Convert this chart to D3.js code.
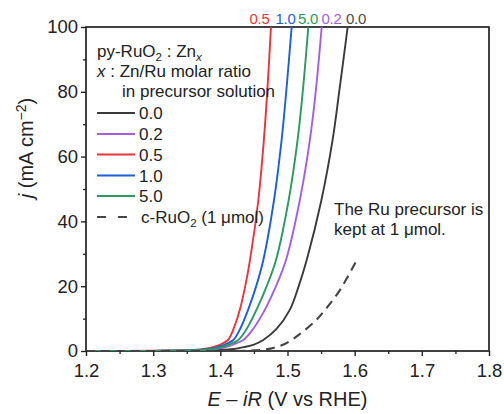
<!DOCTYPE html>
<html>
<head>
<meta charset="utf-8">
<script src="https://cdn.jsdelivr.net/npm/d3@7/dist/d3.min.js"></script>
<style>
  html, body { margin: 0; padding: 0; background: #fff; }
  svg { display: block; font-family: "Liberation Sans", Arial, sans-serif; }
</style>
</head>
<body>
<svg id="chart" width="504" height="414"></svg>
<script>
// Polarisation curves (potential V vs RHE, current density mA cm^-2)
const seriesNames = ["0.0", "0.2", "0.5", "1.0", "5.0"];
const seriesColors = ["#3a3a3a", "#a45ee3", "#e8343a", "#1c5fd8", "#2a9a5e"];

const zn00 = [[1.20,0],[1.30,0.05],[1.40,0.3],[1.42,0.6],[1.435,1.2],[1.45,2.0],[1.4640,3.4],[1.4836,6.8],[1.5034,12.7],[1.5168,20.1],[1.5286,28.1],[1.5502,46.3],[1.5671,65.1],[1.5771,80.2],[1.5896,100]];
const zn02 = [[1.20,0],[1.30,0.05],[1.379,0.3],[1.399,0.8],[1.409,1.3],[1.419,2.0],[1.4342,3.4],[1.4488,6.8],[1.4662,12.7],[1.4830,20.1],[1.4978,28.1],[1.5181,46.3],[1.5333,65.1],[1.5421,80.2],[1.5509,100]];
const zn05 = [[1.20,0],[1.30,0.1],[1.36,0.3],[1.38,0.8],[1.39,1.3],[1.40,2.0],[1.4114,3.4],[1.4196,6.8],[1.4290,12.7],[1.4372,20.1],[1.4442,28.1],[1.4564,46.3],[1.4648,65.1],[1.4699,80.2],[1.4754,100]];
const zn10 = [[1.20,0],[1.30,0.05],[1.367,0.3],[1.387,0.8],[1.397,1.3],[1.407,2.0],[1.4193,3.4],[1.4294,6.8],[1.4413,12.7],[1.4535,20.1],[1.4640,28.1],[1.4797,46.3],[1.4912,65.1],[1.4982,80.2],[1.5062,100]];
const zn50 = [[1.20,0],[1.30,0.05],[1.373,0.3],[1.393,0.8],[1.403,1.3],[1.413,2.0],[1.4267,3.4],[1.4392,6.8],[1.4538,12.7],[1.4692,20.1],[1.4829,28.1],[1.5015,46.3],[1.5150,65.1],[1.5228,80.2],[1.5310,100]];
const cRuO2 = [[1.20,0],[1.40,0],[1.44,0.05],[1.464,0.4],[1.48,1.0],[1.50,2.6],[1.52,5.5],[1.543,9.6],[1.556,12.7],[1.578,18.8],[1.603,28]];

const seriesData = [zn00, zn02, zn05, zn10, zn50];
const xTicks = [1.2, 1.3, 1.4, 1.5, 1.6, 1.7, 1.8];
const yTicks = [0, 20, 40, 60, 80, 100];
// labels above the top edge, in left-to-right order
const topLabels = ["0.5", "1.0", "5.0", "0.2", "0.0"];
const topLabelColors = ["#e8343a", "#1c5fd8", "#2a9a5e", "#a45ee3", "#4a4a4a"];

const svg = d3.select("#chart");
const m = { left: 86, right: 489, top: 27, bottom: 351 };
const x = d3.scaleLinear().domain([1.2, 1.8]).range([m.left, m.right]);
const y = d3.scaleLinear().domain([0, 100]).range([m.bottom, m.top]);
const axisColor = "#222";
const textColor = "#222";
const tickFont = "18.5px";
const titleFont = "20px";
const fs = "17px";

svg.append("defs").append("clipPath").attr("id", "plot-clip")
  .append("rect").attr("x", m.left).attr("y", m.top)
  .attr("width", m.right - m.left).attr("height", m.bottom - m.top);

// minor ticks
const xMinor = d3.range(1.25, 1.8, 0.1);
const yMinor = d3.range(10, 100, 20);
svg.append("g").attr("transform", `translate(0,${m.bottom})`)
  .call(d3.axisBottom(x).tickValues(xMinor).tickSize(3).tickFormat(""))
  .call(g => g.select(".domain").remove())
  .call(g => g.selectAll("line").attr("stroke", axisColor).attr("stroke-width", 1.3));
svg.append("g").attr("transform", `translate(${m.left},0)`)
  .call(d3.axisLeft(y).tickValues(yMinor).tickSize(3).tickFormat(""))
  .call(g => g.select(".domain").remove())
  .call(g => g.selectAll("line").attr("stroke", axisColor).attr("stroke-width", 1.3));

// major ticks and labels
const xAxis = svg.append("g").attr("transform", `translate(0,${m.bottom})`)
  .call(d3.axisBottom(x).tickValues(xTicks).tickSize(5).tickPadding(8).tickFormat(d3.format(".1f")));
xAxis.select(".domain").remove();
xAxis.selectAll("line").attr("stroke", axisColor).attr("stroke-width", 1.4);
xAxis.selectAll("text").attr("fill", textColor).style("font-size", tickFont)
  .style("font-family", "'Liberation Sans', Arial, sans-serif");

const yAxis = svg.append("g").attr("transform", `translate(${m.left},0)`)
  .call(d3.axisLeft(y).tickValues(yTicks).tickSize(5).tickPadding(3));
yAxis.select(".domain").remove();
yAxis.selectAll("line").attr("stroke", axisColor).attr("stroke-width", 1.4);
yAxis.selectAll("text").attr("fill", textColor).style("font-size", tickFont)
  .style("font-family", "'Liberation Sans', Arial, sans-serif");

// frame
svg.append("rect").attr("x", m.left).attr("y", m.top)
  .attr("width", m.right - m.left).attr("height", m.bottom - m.top)
  .attr("fill", "none").attr("stroke", axisColor).attr("stroke-width", 1.7);

// curves
const line = d3.line().x(d => x(d[0])).y(d => y(d[1])).curve(d3.curveCatmullRom.alpha(0.5));
const plot = svg.append("g").attr("clip-path", "url(#plot-clip)");
seriesData.forEach((data, i) => {
  plot.append("path").datum(data).attr("d", line)
    .attr("fill", "none").attr("stroke", seriesColors[i]).attr("stroke-width", 1.9);
});
plot.append("path").datum(cRuO2).attr("d", line)
  .attr("fill", "none").attr("stroke", "#444").attr("stroke-width", 2.1)
  .attr("stroke-dasharray", "9,6");

// labels above the curves' exits at the top edge
const topX = [259.5, 285.5, 308, 331.5, 356];
topLabels.forEach((t, i) => {
  svg.append("text").attr("x", topX[i]).attr("y", 23.5)
    .attr("text-anchor", "middle").attr("fill", topLabelColors[i])
    .style("font-size", "15px").style("letter-spacing", "-0.3px").text(t);
});

// legend header
const h1 = svg.append("text").attr("x", 97).attr("y", 57).attr("fill", textColor).style("font-size", fs);
h1.append("tspan").text("py-RuO");
h1.append("tspan").attr("dy", 4).style("font-size", "11.5px").text("2");
h1.append("tspan").attr("dy", -4).text(" : Zn");
h1.append("tspan").attr("dy", 4).style("font-size", "11.5px").style("font-style", "italic").text("x");

const h2 = svg.append("text").attr("x", 97).attr("y", 77).attr("fill", textColor).style("font-size", fs);
h2.append("tspan").style("font-style", "italic").text("x");
h2.append("tspan").text(" : Zn/Ru molar ratio");
svg.append("text").attr("x", 122).attr("y", 97).attr("fill", textColor).style("font-size", fs)
  .text("in precursor solution");

const legendY = [113, 134, 154.5, 175.5, 196];
seriesNames.forEach((name, i) => {
  svg.append("line").attr("x1", 97).attr("x2", 135).attr("y1", legendY[i]).attr("y2", legendY[i])
    .attr("stroke", seriesColors[i]).attr("stroke-width", 1.9);
  svg.append("text").attr("x", 139).attr("y", legendY[i] + 6).attr("fill", textColor)
    .style("font-size", fs).text(name);
});
svg.append("line").attr("x1", 97).attr("x2", 135).attr("y1", 217).attr("y2", 217)
  .attr("stroke", "#444").attr("stroke-width", 2.1).attr("stroke-dasharray", "9,12");
const lc = svg.append("text").attr("x", 141).attr("y", 223).attr("fill", textColor).style("font-size", fs);
lc.append("tspan").text("c-RuO");
lc.append("tspan").attr("dy", 4).style("font-size", "11.5px").text("2");
lc.append("tspan").attr("dy", -4).text(" (1 μmol)");

// annotation
svg.append("text").attr("x", 334).attr("y", 215).attr("fill", textColor).style("font-size", fs)
  .text("The Ru precursor is");
svg.append("text").attr("x", 334).attr("y", 235).attr("fill", textColor).style("font-size", fs)
  .text("kept at 1 μmol.");

// axis titles
const xt = svg.append("text").attr("x", (m.left + m.right) / 2).attr("y", 406)
  .attr("text-anchor", "middle").attr("fill", textColor).style("font-size", titleFont);
xt.append("tspan").style("font-style", "italic").text("E");
xt.append("tspan").text(" – ");
xt.append("tspan").style("font-style", "italic").text("iR");
xt.append("tspan").text(" (V vs RHE)");

const yt = svg.append("text").attr("transform", "translate(33,148) rotate(-90)")
  .attr("text-anchor", "middle").attr("fill", textColor).style("font-size", titleFont);
yt.append("tspan").style("font-style", "italic").text("j");
yt.append("tspan").text(" (mA cm");
yt.append("tspan").attr("dy", -7).style("font-size", "14px").text("−2");
yt.append("tspan").attr("dy", 7).text(")");
</script>
</body>
</html>
